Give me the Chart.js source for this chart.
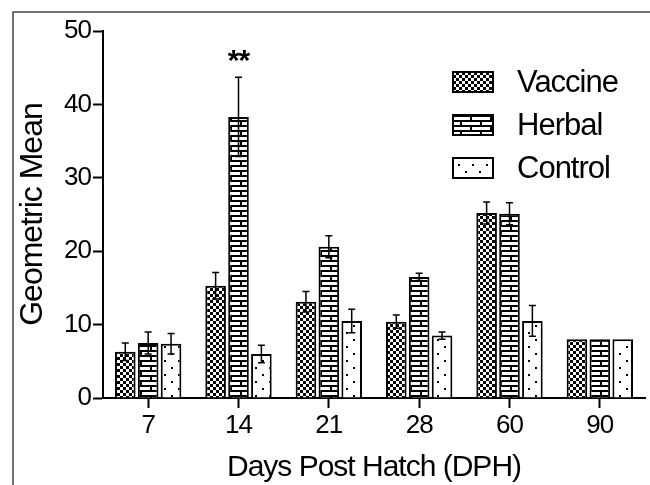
<!DOCTYPE html>
<html>
<head>
<meta charset="utf-8">
<script src="https://cdn.jsdelivr.net/npm/chart.js@4.4.0/dist/chart.umd.min.js"></script>
<style>
  body { margin: 0; background: #fff; }
  canvas { display: block; }
</style>
</head>
<body>
<canvas id="myChart" width="650" height="485"></canvas>
<script>
// data
const days = ['7', '14', '21', '28', '60', '90'];
const vaccine = [6.3, 15.3, 13.1, 10.4, 25.2, 8.0];
const vaccineErr = [1.2, 1.8, 1.4, 0.9, 1.5, 0];
const herbal = [7.5, 38.3, 20.6, 16.5, 25.1, 8.0];
const herbalErr = [1.5, 5.4, 1.5, 0.5, 1.5, 0];
const control = [7.4, 6.0, 10.5, 8.5, 10.5, 8.0];
const controlErr = [1.4, 1.2, 1.6, 0.5, 2.1, 0];
const yTicks = [0, 10, 20, 30, 40, 50];

const FONT = "'Liberation Sans', Arial, sans-serif";

function makePattern(w, h, draw) {
    const c = document.createElement('canvas');
    c.width = w; c.height = h;
    const g = c.getContext('2d');
    g.fillStyle = '#fff';
    g.fillRect(0, 0, w, h);
    g.fillStyle = '#000';
    draw(g);
    return document.getElementById('myChart').getContext('2d').createPattern(c, 'repeat');
}

// checkerboard
const checker = makePattern(6, 6, g => {
    g.fillRect(0, 0, 3, 3);
    g.fillRect(3, 3, 3, 3);
});
// bricks
const brick = makePattern(20, 10, g => {
    g.fillRect(0, 0, 20, 2);
    g.fillRect(0, 5, 20, 2);
    g.fillRect(0, 0, 2, 5);
    g.fillRect(10, 5, 2, 5);
});
// sparse dots
const dots = makePattern(14, 14, g => {
    g.fillRect(3, 3, 2, 2);
    g.fillRect(10, 10, 2, 2);
});

const errs = [vaccineErr, herbalErr, controlErr];

const framePlugin = {
    id: 'frame',
    beforeDraw(chart) {
        const c = chart.ctx;
        c.letterSpacing = '-1px';
        c.save();
        c.strokeStyle = '#444';
        c.lineWidth = 1.5;
        c.beginPath();
        c.moveTo(650, 12);
        c.lineTo(13, 12);
        c.lineTo(13, 485);
        c.stroke();
        c.restore();
    }
};

const errorBarPlugin = {
    id: 'errorBars',
    afterDatasetsDraw(chart) {
        const c = chart.ctx;
        const y = chart.scales.y;
        c.save();
        c.strokeStyle = '#000';
        c.lineWidth = 1.5;
        chart.data.datasets.forEach((ds, i) => {
            const meta = chart.getDatasetMeta(i);
            meta.data.forEach((bar, j) => {
                const e = errs[i][j];
                if (!e) return;
                const top = y.getPixelForValue(ds.data[j] + e);
                const bot = y.getPixelForValue(ds.data[j] - e);
                c.beginPath();
                c.moveTo(bar.x, top);
                c.lineTo(bar.x, bot);
                c.moveTo(bar.x - 3.5, top);
                c.lineTo(bar.x + 3.5, top);
                c.moveTo(bar.x - 3.5, bot);
                c.lineTo(bar.x + 3.5, bot);
                c.stroke();
            });
        });
        // significance mark over Herbal at 14 DPH
        const bar = chart.getDatasetMeta(1).data[1];
        c.fillStyle = '#000';
        c.font = 'bold 30px ' + FONT;
        c.textAlign = 'center';
        c.textBaseline = 'middle';
        c.fillText('**', bar.x, y.getPixelForValue(herbal[1] + herbalErr[1]) - 16);
        c.restore();
    }
};

const legendPlugin = {
    id: 'boxLegend',
    afterDraw(chart) {
        const c = chart.ctx;
        const x0 = chart.chartArea.right - 192;
        c.save();
        c.font = '31px ' + FONT;
        c.textBaseline = 'middle';
        c.textAlign = 'left';
        chart.data.datasets.forEach((ds, i) => {
            const cy = 82 + i * 43;
            c.fillStyle = ds.backgroundColor;
            c.fillRect(x0, cy - 10, 40, 20);
            c.strokeStyle = '#000';
            c.lineWidth = 2;
            c.strokeRect(x0, cy - 10, 40, 20);
            c.fillStyle = '#000';
            c.fillText(ds.label, x0 + 64, cy + 1);
        });
        c.restore();
    }
};

const ctx = document.getElementById('myChart').getContext('2d');

const mychart = new Chart(ctx, {
    type: 'bar',
    data: {
        labels: days,
        datasets: [
            { label: 'Vaccine', data: vaccine, backgroundColor: checker },
            { label: 'Herbal', data: herbal, backgroundColor: brick },
            { label: 'Control', data: control, backgroundColor: dots },
        ].map(d => Object.assign(d, {
            borderColor: '#000',
            borderWidth: 2,
            categoryPercentage: 0.76,
            barPercentage: 0.9,
        }))
    },
    options: {
        responsive: false,
        animation: false,
        layout: { padding: { top: 31, right: 5, left: 0, bottom: 0 } },
        plugins: {
            legend: { display: false },
            tooltip: { enabled: false },
        },
        scales: {
            x: {
                afterFit: s => { s.height = 87; },
                grid: {
                    offset: false,
                    drawOnChartArea: false,
                    tickLength: 10,
                    tickWidth: 2,
                    tickColor: '#000',
                },
                border: { color: '#000', width: 2 },
                ticks: { color: '#000', font: { family: FONT, size: 26 }, padding: 2 },
                title: {
                    display: true,
                    text: 'Days Post Hatch (DPH)',
                    color: '#000',
                    font: { family: FONT, size: 30, lineHeight: 1 },
                    padding: { top: 0, bottom: 2 },
                },
            },
            y: {
                min: 0,
                max: 50,
                afterFit: s => { s.width = 103; },
                afterBuildTicks: s => { s.ticks = yTicks.map(v => ({ value: v })); },
                grid: {
                    drawOnChartArea: false,
                    tickLength: 10,
                    tickWidth: 2,
                    tickColor: '#000',
                },
                border: { color: '#000', width: 2 },
                ticks: { color: '#000', font: { family: FONT, size: 26 }, padding: 2 },
                title: {
                    display: true,
                    text: 'Geometric Mean',
                    color: '#000',
                    font: { family: FONT, size: 32, lineHeight: 1 },
                    padding: { top: 17, bottom: 0 },
                },
            }
        }
    },
    plugins: [framePlugin, errorBarPlugin, legendPlugin]
});
</script>
</body>
</html>
